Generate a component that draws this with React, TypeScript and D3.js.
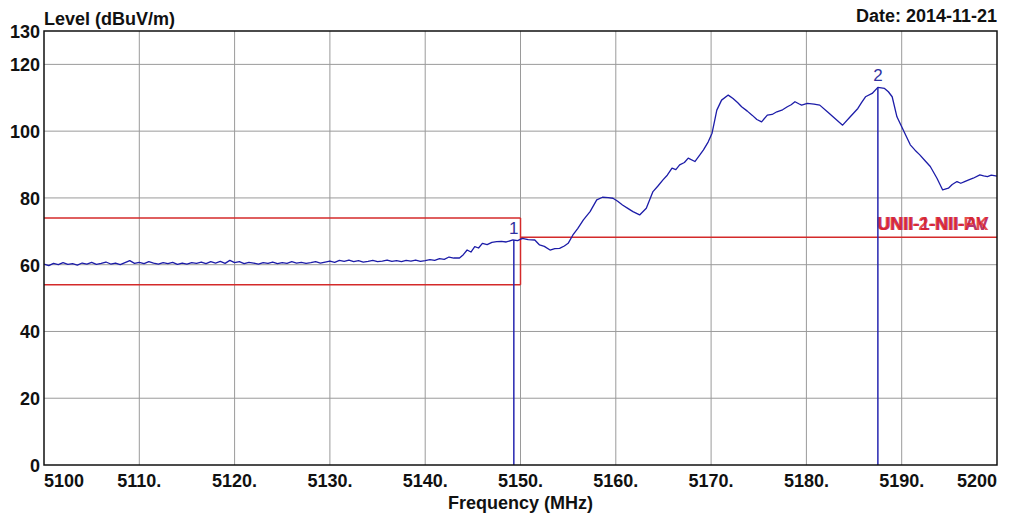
import React, { useEffect, useRef } from 'react';
import * as d3 from 'd3';

// trace: [frequency MHz, level dBuV/m]
const trace: [number, number][] = [
  [5100, 60.2], [5100.5, 59.7], [5101, 60.4], [5101.5, 60.0], [5102, 60.6], [5102.5, 60.1],
  [5103, 60.3], [5103.5, 59.9], [5104, 60.5], [5104.5, 60.2], [5105, 60.7], [5105.5, 60.1],
  [5106, 60.4], [5106.5, 60.8], [5107, 60.2], [5107.5, 60.5], [5108, 60.0], [5108.5, 60.6],
  [5109, 61.2], [5109.5, 60.4], [5110, 60.7], [5110.5, 60.3], [5111, 60.9], [5111.5, 60.5],
  [5112, 60.2], [5112.5, 60.6], [5113, 60.3], [5113.5, 60.7], [5114, 60.1], [5114.5, 60.5],
  [5115, 60.2], [5115.5, 60.6], [5116, 60.4], [5116.5, 60.8], [5117, 60.3], [5117.5, 60.9],
  [5118, 60.5], [5118.5, 61.0], [5119, 60.4], [5119.5, 61.3], [5120, 60.6], [5120.5, 60.9],
  [5121, 60.3], [5121.5, 60.7], [5122, 60.5], [5122.5, 60.2], [5123, 60.6], [5123.5, 60.4],
  [5124, 60.8], [5124.5, 60.3], [5125, 60.6], [5125.5, 60.4], [5126, 60.9], [5126.5, 60.5],
  [5127, 60.7], [5127.5, 60.4], [5128, 60.6], [5128.5, 60.9], [5129, 60.5], [5129.5, 60.8],
  [5130, 61.1], [5130.5, 60.7], [5131, 61.3], [5131.5, 61.0], [5132, 61.4], [5132.5, 60.9],
  [5133, 61.2], [5133.5, 60.8], [5134, 61.0], [5134.5, 61.3], [5135, 60.9], [5135.5, 61.1],
  [5136, 61.4], [5136.5, 61.0], [5137, 61.2], [5137.5, 60.9], [5138, 61.3], [5138.5, 61.1],
  [5139, 61.4], [5139.5, 61.0], [5140, 61.2], [5140.5, 61.5], [5141, 61.3], [5141.5, 61.8],
  [5142, 61.6], [5142.5, 62.3], [5143, 62.0], [5143.6, 62.0], [5144, 63.0], [5144.4, 64.4],
  [5144.8, 63.8], [5145.2, 65.4], [5145.6, 65.0], [5146, 66.4], [5146.5, 66.0], [5147, 66.7],
  [5147.5, 66.9], [5148, 67.0], [5148.5, 66.8], [5149.2, 67.4], [5149.7, 67.2], [5150.2, 67.9],
  [5150.8, 67.5], [5151.5, 67.4], [5152, 65.9], [5152.5, 65.5], [5153.1, 64.4], [5153.6, 64.8],
  [5154.1, 64.9], [5154.6, 65.6], [5155, 66.4], [5155.5, 68.9], [5156, 70.8], [5156.6, 73.4],
  [5157.3, 75.9], [5158, 79.4], [5158.6, 80.2], [5159.2, 80.1], [5159.7, 79.9], [5160.2, 79.0],
  [5160.7, 77.9], [5161.3, 76.8], [5161.8, 75.9], [5162.5, 74.9], [5163.2, 76.9], [5163.9, 81.9],
  [5164.4, 83.5], [5164.95, 85.4], [5165.4, 86.8], [5165.9, 88.9], [5166.3, 88.5], [5166.7, 89.9],
  [5167.2, 90.6], [5167.6, 91.9], [5168.3, 90.9], [5168.8, 92.8], [5169.2, 94.4], [5169.7, 96.8],
  [5170.1, 99.4], [5170.4, 103.5], [5170.6, 106.3], [5171.1, 109.3], [5171.8, 110.8], [5172.3, 109.8],
  [5172.8, 108.5], [5173.2, 107.3], [5173.8, 106.0], [5174.3, 104.8], [5174.8, 103.5], [5175.3, 102.8],
  [5175.9, 104.8], [5176.4, 105.0], [5176.9, 105.8], [5177.5, 106.4], [5178.0, 107.3], [5178.4, 107.9],
  [5178.8, 108.8], [5179.2, 108.2], [5179.5, 107.8], [5180.1, 108.3], [5180.8, 108.1], [5181.4, 107.8],
  [5182.2, 105.8], [5183.0, 103.8], [5183.8, 101.8], [5184.6, 104.3], [5185.4, 106.8], [5185.8, 108.6],
  [5186.2, 110.3], [5186.9, 111.3], [5187.5, 113.1], [5188.2, 112.8], [5188.6, 111.8], [5189.0, 110.3],
  [5189.5, 104.3], [5190.0, 101.3], [5190.9, 95.9], [5191.4, 94.3], [5191.9, 92.9], [5192.5, 91.0],
  [5193.0, 89.4], [5193.7, 85.9], [5194.3, 82.4], [5194.9, 82.9], [5195.3, 84.0], [5195.8, 84.9],
  [5196.2, 84.4], [5196.6, 84.9], [5197.1, 85.5], [5197.5, 85.9], [5198.2, 86.9], [5198.6, 86.6],
  [5199.0, 86.4], [5199.4, 86.8], [5200, 86.5],
];

// limit lines: [f1, level1, f2, level2]
const limitSegments: [number, number, number, number][] = [
  [5100, 74, 5150, 74],
  [5100, 54, 5150, 54],
  [5150, 54, 5150, 74],
  [5150, 68.2, 5200, 68.2],
];
const limitLabels = ['UNII-1-NII-AV', 'UNII-2-NII-PK'];

const markers = [
  { label: '1', freq: 5149.3, level: 67.4 },
  { label: '2', freq: 5187.5, level: 113.1 },
];

const xTicks = [5100, 5110, 5120, 5130, 5140, 5150, 5160, 5170, 5180, 5190, 5200];
const xTickLabels = ['5100', '5110.', '5120.', '5130.', '5140.', '5150.', '5160.', '5170.', '5180.', '5190.', '5200'];
const yTicks = [0, 20, 40, 60, 80, 100, 120, 130];

const W = 1016;
const H = 518;
const margin = { top: 31, right: 19, bottom: 53, left: 44 };
const font = '"Liberation Sans", Arial, sans-serif';

const App = () => {
  const ref = useRef<SVGSVGElement>(null);

  useEffect(() => {
    const svg = d3.select(ref.current);
    svg.selectAll('*').remove();

    const x = d3.scaleLinear().domain([5100, 5200]).range([margin.left, W - margin.right]);
    const y = d3.scaleLinear().domain([0, 130]).range([H - margin.bottom, margin.top]);

    svg.append('rect').attr('width', W).attr('height', H).attr('fill', '#fff');

    // grid
    svg.append('g')
      .selectAll('line')
      .data(xTicks.slice(1, -1))
      .join('line')
      .attr('x1', d => x(d)).attr('x2', d => x(d))
      .attr('y1', y(0)).attr('y2', y(130))
      .attr('stroke', '#9a9a9a').attr('stroke-width', 1);
    svg.append('g')
      .selectAll('line')
      .data(yTicks.filter(d => d > 0 && d < 130))
      .join('line')
      .attr('x1', x(5100)).attr('x2', x(5200))
      .attr('y1', d => y(d)).attr('y2', d => y(d))
      .attr('stroke', '#9a9a9a').attr('stroke-width', 1);

    // limits
    svg.append('g')
      .selectAll('line')
      .data(limitSegments)
      .join('line')
      .attr('x1', d => x(d[0])).attr('y1', d => y(d[1]))
      .attr('x2', d => x(d[2])).attr('y2', d => y(d[3]))
      .attr('stroke', '#d42a2a').attr('stroke-width', 1.5);
    svg.append('g')
      .selectAll('text')
      .data(limitLabels)
      .join('text')
      .attr('x', x(5199.1))
      .attr('y', y(68.2) - 7)
      .attr('text-anchor', 'end')
      .attr('font-family', font).attr('font-weight', 'bold').attr('font-size', 18)
      .attr('fill', (d, i) => (i === 0 ? '#b02060' : '#e02424'))
      .attr('opacity', (d, i) => (i === 0 ? 0.9 : 0.8))
      .text(d => d);

    // trace
    const line = d3.line<[number, number]>().x(d => x(d[0])).y(d => y(d[1]));
    svg.append('path')
      .datum(trace)
      .attr('d', line)
      .attr('fill', 'none')
      .attr('stroke', '#1c1ca8')
      .attr('stroke-width', 1.3)
      .attr('stroke-linejoin', 'round');

    // markers
    const mk = svg.append('g').selectAll('g').data(markers).join('g');
    mk.append('line')
      .attr('x1', d => x(d.freq)).attr('x2', d => x(d.freq))
      .attr('y1', d => y(d.level)).attr('y2', y(0))
      .attr('stroke', '#2626b0').attr('stroke-width', 1.5);
    mk.append('text')
      .attr('x', d => x(d.freq))
      .attr('y', d => y(d.level) - 6)
      .attr('text-anchor', 'middle')
      .attr('font-family', font).attr('font-size', 17)
      .attr('fill', '#3030a0')
      .text(d => d.label);

    // frame
    svg.append('rect')
      .attr('x', x(5100)).attr('y', y(130))
      .attr('width', x(5200) - x(5100)).attr('height', y(0) - y(130))
      .attr('fill', 'none').attr('stroke', '#111').attr('stroke-width', 1.5);

    // tick labels
    svg.append('g')
      .selectAll('text')
      .data(xTicks)
      .join('text')
      .attr('x', d => x(d))
      .attr('y', y(0) + 22)
      .attr('text-anchor', (d, i) => (i === 0 ? 'start' : i === xTicks.length - 1 ? 'end' : 'middle'))
      .attr('font-family', font).attr('font-weight', 'bold').attr('font-size', 18)
      .attr('fill', '#111')
      .text((d, i) => xTickLabels[i]);
    svg.append('g')
      .selectAll('text')
      .data(yTicks)
      .join('text')
      .attr('x', margin.left - 4)
      .attr('y', d => y(d) + 7)
      .attr('text-anchor', 'end')
      .attr('font-family', font).attr('font-weight', 'bold').attr('font-size', 18)
      .attr('fill', '#111')
      .text(d => d);

    // titles
    svg.append('text')
      .attr('x', margin.left).attr('y', 25)
      .attr('font-family', font).attr('font-weight', 'bold').attr('font-size', 18)
      .attr('fill', '#111')
      .text('Level (dBuV/m)');
    svg.append('text')
      .attr('x', W - margin.right).attr('y', 22)
      .attr('text-anchor', 'end')
      .attr('font-family', font).attr('font-weight', 'bold').attr('font-size', 18)
      .attr('fill', '#111')
      .text('Date: 2014-11-21');
    svg.append('text')
      .attr('x', (x(5100) + x(5200)) / 2).attr('y', 509)
      .attr('text-anchor', 'middle')
      .attr('font-family', font).attr('font-weight', 'bold').attr('font-size', 18)
      .attr('fill', '#111')
      .text('Frequency (MHz)');
  }, []);

  return (
    <svg
      ref={ref}
      width={W}
      height={H}
      style={{ position: 'absolute', left: 0, top: 0, display: 'block' }}
    />
  );
};

export default App;
